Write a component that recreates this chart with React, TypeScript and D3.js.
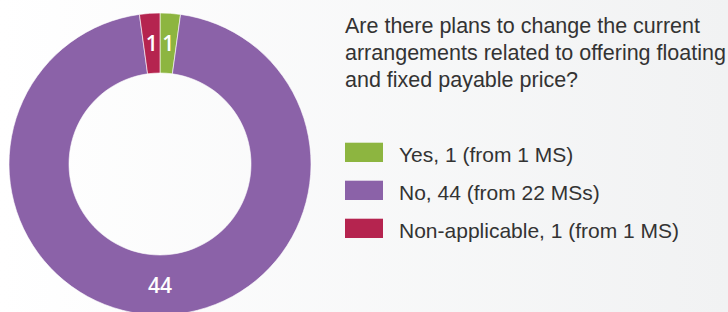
import React from "react";
import * as d3 from "d3";

const categories = ["Yes", "No", "Non-applicable"];
const values = [1, 44, 1];
const memberStates = ["1 MS", "22 MSs", "1 MS"];
const colors = ["#8db540", "#8b62a8", "#b5244f"];
const titleLines = [
  "Are there plans to change the current",
  "arrangements related to offering floating",
  "and fixed payable price?",
];

const W = 728;
const H = 312;

export default function App() {
  const cx = 160;
  const cy = 164;
  const outerR = 151;
  const innerR = 91;
  const pie = d3.pie<number>().sort(null).value((d) => d)(values);
  const arc = d3.arc<d3.PieArcDatum<number>>().innerRadius(innerR).outerRadius(outerR);
  const labelArc = d3
    .arc<d3.PieArcDatum<number>>()
    .innerRadius((innerR + outerR) / 2)
    .outerRadius((innerR + outerR) / 2);

  const legendY = d3.scaleBand<number>().domain(d3.range(categories.length)).range([134, 248]);
  const font = "'Liberation Sans', Arial, sans-serif";

  return (
    <svg
      width={W}
      height={H}
      style={{ position: "absolute", left: 0, top: 0, display: "block" }}
    >
      <defs>
        <linearGradient id="bg" x1="0" x2="1" y1="0" y2="0">
          <stop offset="0" stopColor="#ffffff" />
          <stop offset="1" stopColor="#f1f2f3" />
        </linearGradient>
      </defs>
      <rect x={0} y={0} width={W} height={H} fill="url(#bg)" />
      <g transform={`translate(${cx},${cy})`}>
        {pie.map((p, i) => (
          <path key={i} d={arc(p) || ""} fill={colors[i]} stroke="#ffffff" strokeWidth={0.6} />
        ))}
        {pie.map((p, i) => {
          const [lx, ly] = labelArc.centroid(p);
          return (
            <text
              key={"l" + i}
              x={lx}
              y={ly}
              dy="0.36em"
              textAnchor="middle"
              fill="#ffffff"
              fontFamily="'Open Sans', sans-serif"
              fontWeight={600}
              fontSize={21}
            >
              {values[i]}
            </text>
          );
        })}
      </g>
      <g fontFamily={font} fontSize={21.5} fill="#333333">
        {titleLines.map((t, i) => (
          <text key={i} x={345} y={33.3 + i * 27}>
            {t}
          </text>
        ))}
      </g>
      <g fontFamily={font} fontSize={21} fill="#333333">
        {categories.map((c, i) => {
          const y = legendY(i) as number;
          return (
            <g key={c} transform={`translate(345,${y})`}>
              <rect x={0} y={8.7} width={38} height={19.3} fill={colors[i]} />
              <text x={54} y={27.6}>
                {`${c}, ${values[i]} (from ${memberStates[i]})`}
              </text>
            </g>
          );
        })}
      </g>
    </svg>
  );
}
